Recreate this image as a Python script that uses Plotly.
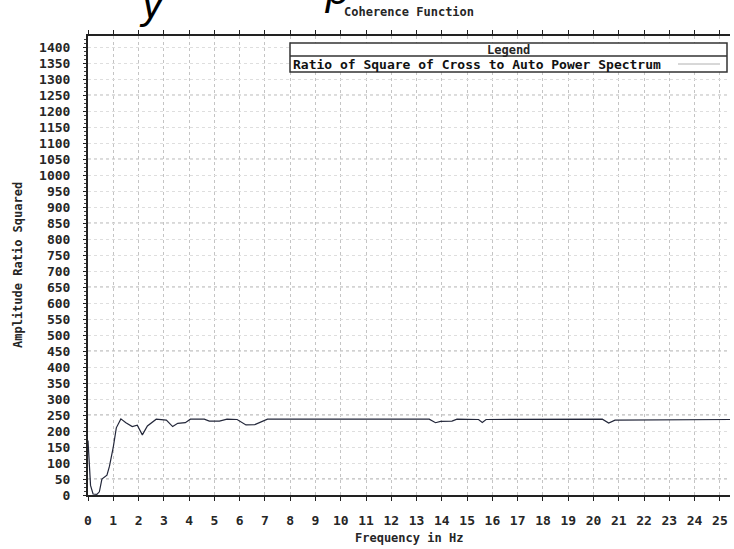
import plotly.graph_objects as go

# Coherence estimate: frequency (Hz) vs amplitude ratio squared
freq_hz = [0.0, 0.04, 0.1, 0.2, 0.35, 0.45, 0.55, 0.75, 0.85, 1.0, 1.12, 1.3,
           1.5, 1.75, 1.95, 2.15, 2.35, 2.7, 3.1, 3.35, 3.55, 3.85, 4.05, 4.6,
           4.8, 5.2, 5.5, 5.9, 6.05, 6.25, 6.6, 6.9, 7.1, 13.5, 13.75, 13.95,
           14.4, 14.6, 15.45, 15.6, 15.75, 20.35, 20.6, 20.85, 25.4]
ratio_sq = [170, 100, 30, 3, 2, 10, 50, 62, 90, 150, 210, 238,
            226, 214, 218, 188, 216, 237, 234, 214, 224, 226, 237, 237,
            231, 231, 237, 236, 229, 219, 220, 229, 237, 237, 226, 230,
            231, 237, 236, 227, 236, 237, 225, 234, 236]

series_name = "Ratio of Square of Cross to Auto Power Spectrum"
x_ticks = list(range(0, 26))
y_ticks = list(range(0, 1401, 50))
y_emphasis = list(range(50, 1401, 200))

W, H = 734, 549
L, R, T, B = 88, 4, 36, 54
PW, PH = W - L - R, H - T - B

def px(xp):
    return (xp - L) / PW

def py(yp):
    return (H - B - yp) / PH

FONT = "DejaVu Sans Mono"
TXT = "#262626"

def label(text, x, y, size=12, color=TXT, **kw):
    return dict(text=text, xref="paper", yref="paper", x=x, y=y,
                xanchor=kw.pop("xanchor", "center"), yanchor="middle",
                showarrow=False,
                font=dict(family=kw.pop("family", FONT), size=size, color=color,
                          weight=kw.pop("weight", "bold"), style=kw.pop("style", "normal")),
                **kw)

fig = go.Figure()
fig.add_trace(go.Scatter(
    x=freq_hz, y=ratio_sq, mode="lines", name=series_name,
    line=dict(color="#23273a", width=1.2), showlegend=False,
))

shapes = []
# stronger dotted guide lines
for v in y_emphasis:
    shapes.append(dict(type="line", xref="paper", yref="y", x0=0, x1=1, y0=v, y1=v,
                       line=dict(color="#9a9a9a", width=1, dash="dot"), layer="below"))

# legend box
lx0, lx1 = px(290), px(727)
ly0, ly1, lsep = py(72), py(43), py(56)
shapes.append(dict(type="rect", xref="paper", yref="paper", x0=lx0, x1=lx1, y0=ly0, y1=ly1,
                   fillcolor="white", line=dict(color="#333", width=1.5)))
shapes.append(dict(type="line", xref="paper", yref="paper", x0=lx0, x1=lx1, y0=lsep, y1=lsep,
                   line=dict(color="#333", width=1.5)))
shapes.append(dict(type="line", xref="paper", yref="paper", x0=px(678), x1=px(720),
                   y0=py(64), y1=py(64), line=dict(color="#b0b0b0", width=1)))

annotations = [
    label("Coherence Function", 0.5, py(12)),
    label("Frequency in Hz", 0.5, py(538)),
    label("Amplitude Ratio Squared", px(18), py(265), textangle=-90),
    label("Legend", (lx0 + lx1) / 2, py(49.5)),
    label(series_name, px(291), py(64.5), size=13, color="#111", xanchor="left"),
    # heading fragments from the page above the chart
    label("y", px(152), py(4), size=42, color="#000", family="Liberation Sans",
          weight="normal", style="italic"),
    label("p", px(336), py(-10), size=42, color="#000", family="Liberation Sans",
          weight="normal", style="italic"),
]

fig.update_layout(
    width=W, height=H,
    margin=dict(l=L, r=R, t=T, b=B),
    paper_bgcolor="white", plot_bgcolor="white",
    shapes=shapes, annotations=annotations,
    font=dict(family=FONT, size=12, color=TXT),
)
fig.update_xaxes(
    range=[0, 25.4], tickvals=x_ticks, ticktext=[str(v) for v in x_ticks],
    showline=True, linecolor="#222", linewidth=2, mirror="ticks",
    ticks="outside", ticklen=4, tickcolor="#222", ticklabelstandoff=8,
    showgrid=True, gridcolor="#c4c4c4", griddash="dot", gridwidth=1,
    zeroline=False, tickfont=dict(family=FONT, size=13, color=TXT, weight="bold"),
)
fig.update_yaxes(
    range=[0, 1435], tickvals=y_ticks, ticktext=[str(v) for v in y_ticks],
    showline=True, linecolor="#222", linewidth=2,
    ticks="outside", ticklen=3, tickcolor="#222", ticklabelstandoff=10,
    minor=dict(dtick=12.5, ticks="outside", ticklen=2, tickcolor="#444", showgrid=False),
    showgrid=True, gridcolor="#dedede", griddash="dot", gridwidth=1,
    zeroline=False, tickfont=dict(family=FONT, size=13, color=TXT, weight="bold"),
)

fig.write_html("out.html")
